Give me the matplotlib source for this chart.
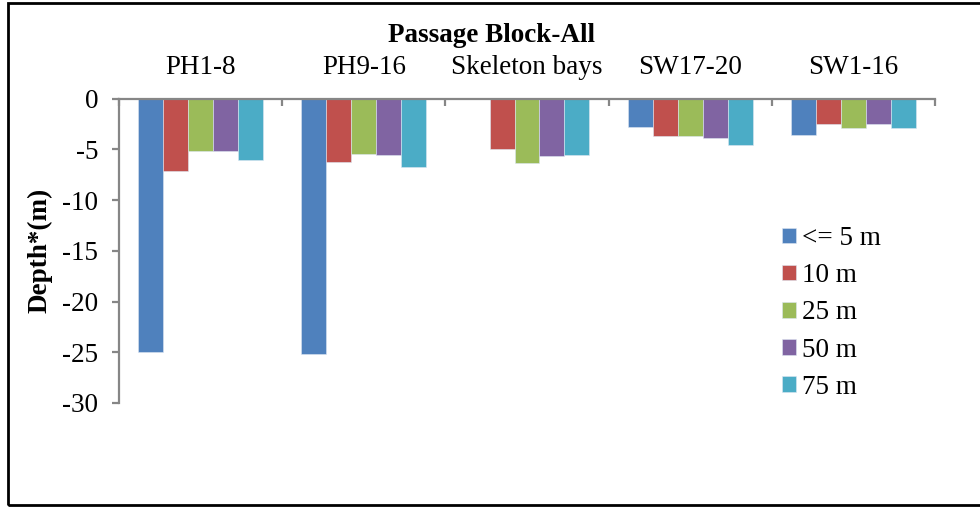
import numpy as np
import matplotlib
matplotlib.use("Agg")
import matplotlib.pyplot as plt
from matplotlib.patches import Rectangle

# depth by spacing class for each passage block
blocks = ["PH1-8", "PH9-16", "Skeleton bays", "SW17-20", "SW1-16"]
series = ["<= 5 m", "10 m", "25 m", "50 m", "75 m"]
le5 = [-25.0, -25.2, 0.0, -2.8, -3.6]
m10 = [-7.1, -6.3, -5.0, -3.7, -2.5]
m25 = [-5.2, -5.5, -6.4, -3.7, -2.9]
m50 = [-5.2, -5.6, -5.7, -3.9, -2.5]
m75 = [-6.1, -6.7, -5.6, -4.6, -2.9]
colors = ["#4F81BD", "#C0504D", "#9BBB59", "#8064A2", "#4BACC6"]
yticks = [0, -5, -10, -15, -20, -25, -30]

plt.rcParams["font.family"] = ["Liberation Serif", "DejaVu Serif"]
FS = 19.5
GREY = "#868686"

fig = plt.figure(figsize=(9.8, 5.07), dpi=100)
ax = fig.add_axes([119 / 980, 1 - 403 / 507, 816 / 980, 304.5 / 507])

x = np.arange(len(blocks)) + 0.5
w = 0.153
for i, (vals, name) in enumerate(zip([le5, m10, m25, m50, m75], series)):
    ax.bar(x + (i - 2) * w, vals, w, color=colors[i], label=name,
           edgecolor="#dce6f2", linewidth=0.4)

ax.set_xlim(0, len(blocks))
ax.set_ylim(-30, 0)
for s in ["bottom", "right"]:
    ax.spines[s].set_visible(False)
for s in ["top", "left"]:
    ax.spines[s].set_color(GREY)
    ax.spines[s].set_linewidth(1.6)

ax.set_yticks(yticks)
ax.set_yticklabels([str(v) for v in yticks], fontsize=FS)
ax.tick_params(axis="y", direction="out", length=5, width=1.6, color=GREY, pad=10)

# category names sit above the zero line, boundary ticks hang below it
ax.xaxis.tick_top()
ax.set_xticks(x)
ax.set_xticklabels(blocks, fontsize=FS)
ax.tick_params(axis="x", which="major", length=0, pad=13)
ax.set_xticks(np.arange(len(blocks) + 1), minor=True)
ax.tick_params(axis="x", which="minor", direction="in", length=5, width=1.6, color=GREY)

fig.text(491 / 980, 1 - 35 / 507, "Passage Block-All", ha="center", va="center",
         fontsize=FS, fontweight="bold")
fig.text(40 / 980, 1 - 250 / 507, "Depth*(m)", ha="center", va="center",
         rotation=90, fontsize=FS, fontweight="bold")

fig.legend(loc="upper left", bbox_to_anchor=(782 / 980, 1 - 226 / 507), frameon=False,
           fontsize=FS, handlelength=0.52, handleheight=0.52, handletextpad=0.22,
           labelspacing=0.45, borderpad=0, borderaxespad=0)

fig.patches.append(Rectangle((8 / 980, 2 / 507), 1.2, 1 - 5 / 507, transform=fig.transFigure,
                             fill=False, edgecolor="black", linewidth=2))

fig.savefig("out.png", dpi=100)
